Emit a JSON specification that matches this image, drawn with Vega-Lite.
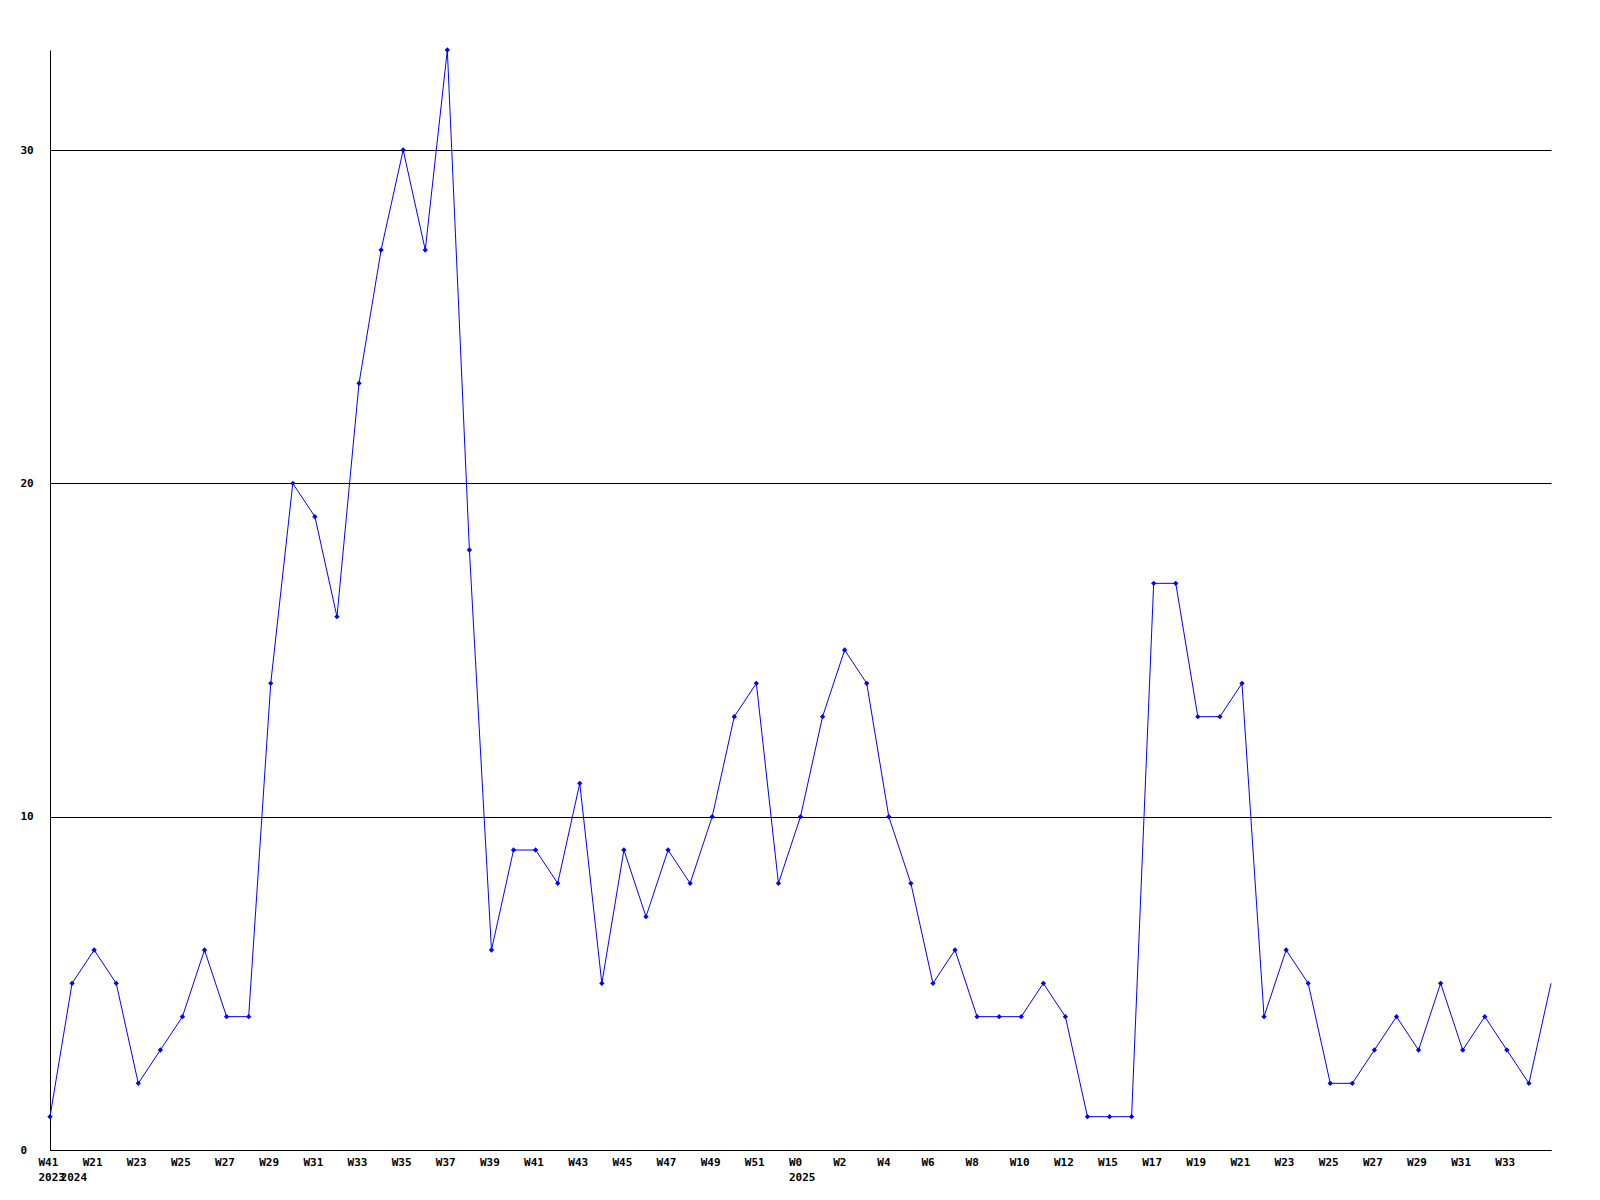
{
  "$schema": "https://vega.github.io/schema/vega-lite/v6.json",
  "width": 1501,
  "height": 1100,
  "autosize": "none",
  "padding": {"left": 50, "top": 50, "right": 49, "bottom": 50},
  "background": "white",
  "config": {"view": {"stroke": null}},
  "data": {
    "values": [
      {"week": "2023-W41", "count": 1},
      {"week": "2024-W20", "count": 5},
      {"week": "2024-W21", "count": 6},
      {"week": "2024-W22", "count": 5},
      {"week": "2024-W23", "count": 2},
      {"week": "2024-W24", "count": 3},
      {"week": "2024-W25", "count": 4},
      {"week": "2024-W26", "count": 6},
      {"week": "2024-W27", "count": 4},
      {"week": "2024-W28", "count": 4},
      {"week": "2024-W29", "count": 14},
      {"week": "2024-W30", "count": 20},
      {"week": "2024-W31", "count": 19},
      {"week": "2024-W32", "count": 16},
      {"week": "2024-W33", "count": 23},
      {"week": "2024-W34", "count": 27},
      {"week": "2024-W35", "count": 30},
      {"week": "2024-W36", "count": 27},
      {"week": "2024-W37", "count": 33},
      {"week": "2024-W38", "count": 18},
      {"week": "2024-W39", "count": 6},
      {"week": "2024-W40", "count": 9},
      {"week": "2024-W41", "count": 9},
      {"week": "2024-W42", "count": 8},
      {"week": "2024-W43", "count": 11},
      {"week": "2024-W44", "count": 5},
      {"week": "2024-W45", "count": 9},
      {"week": "2024-W46", "count": 7},
      {"week": "2024-W47", "count": 9},
      {"week": "2024-W48", "count": 8},
      {"week": "2024-W49", "count": 10},
      {"week": "2024-W50", "count": 13},
      {"week": "2024-W51", "count": 14},
      {"week": "2024-W52", "count": 8},
      {"week": "2025-W0", "count": 10},
      {"week": "2025-W1", "count": 13},
      {"week": "2025-W2", "count": 15},
      {"week": "2025-W3", "count": 14},
      {"week": "2025-W4", "count": 10},
      {"week": "2025-W5", "count": 8},
      {"week": "2025-W6", "count": 5},
      {"week": "2025-W7", "count": 6},
      {"week": "2025-W8", "count": 4},
      {"week": "2025-W9", "count": 4},
      {"week": "2025-W10", "count": 4},
      {"week": "2025-W11", "count": 5},
      {"week": "2025-W12", "count": 4},
      {"week": "2025-W13", "count": 1},
      {"week": "2025-W15", "count": 1},
      {"week": "2025-W16", "count": 1},
      {"week": "2025-W17", "count": 17},
      {"week": "2025-W18", "count": 17},
      {"week": "2025-W19", "count": 13},
      {"week": "2025-W20", "count": 13},
      {"week": "2025-W21", "count": 14},
      {"week": "2025-W22", "count": 4},
      {"week": "2025-W23", "count": 6},
      {"week": "2025-W24", "count": 5},
      {"week": "2025-W25", "count": 2},
      {"week": "2025-W26", "count": 2},
      {"week": "2025-W27", "count": 3},
      {"week": "2025-W28", "count": 4},
      {"week": "2025-W29", "count": 3},
      {"week": "2025-W30", "count": 5},
      {"week": "2025-W31", "count": 3},
      {"week": "2025-W32", "count": 4},
      {"week": "2025-W33", "count": 3},
      {"week": "2025-W34", "count": 2},
      {"week": "2025-W35", "count": 5}
    ]
  },
  "encoding": {
    "x": {
      "field": "week",
      "type": "ordinal",
      "sort": null,
      "scale": {"type": "point", "padding": 0},
      "axis": {
        "title": null,
        "values": ["2023-W41", "2024-W20", "2024-W21", "2024-W23", "2024-W25", "2024-W27", "2024-W29", "2024-W31", "2024-W33", "2024-W35", "2024-W37", "2024-W39", "2024-W41", "2024-W43", "2024-W45", "2024-W47", "2024-W49", "2024-W51", "2025-W0", "2025-W2", "2025-W4", "2025-W6", "2025-W8", "2025-W10", "2025-W12", "2025-W15", "2025-W17", "2025-W19", "2025-W21", "2025-W23", "2025-W25", "2025-W27", "2025-W29", "2025-W31", "2025-W33"],
        "labelExpr": "datum.value == '2024-W20' ? ['', '2024'] : (datum.value == '2023-W41' || datum.value == '2025-W0') ? ['W' + split(datum.value, '-W')[1], split(datum.value, '-W')[0]] : 'W' + split(datum.value, '-W')[1]",
        "labelAlign": "left",
        "labelOffset": -12,
        "labelBaseline": "top",
        "labelPadding": 6,
        "labelLineHeight": 15,
        "labelFont": "DejaVu Sans Mono",
        "labelFontSize": 11,
        "labelFontWeight": "bold",
        "labelColor": "black",
        "labelAngle": 0,
        "labelOverlap": false,
        "labelBound": false,
        "labelFlush": false,
        "ticks": false,
        "grid": false,
        "domainColor": "black",
        "domainWidth": 1
      }
    },
    "y": {
      "field": "count",
      "type": "quantitative",
      "scale": {"domain": [0, 33], "nice": false, "zero": true},
      "axis": {
        "title": null,
        "values": [0, 10, 20, 30],
        "grid": true,
        "gridColor": "black",
        "gridOpacity": 1,
        "gridWidth": 1,
        "ticks": false,
        "domainColor": "black",
        "domainWidth": 1,
        "labelAlign": "left",
        "labelBaseline": "middle",
        "labelPadding": 30,
        "labelFont": "DejaVu Sans Mono",
        "labelFontSize": 11,
        "labelFontWeight": "bold",
        "labelColor": "black",
        "labelOverlap": false,
        "labelFlush": false
      }
    }
  },
  "layer": [
    {
      "mark": {"type": "line", "color": "#0000ff", "strokeWidth": 1}
    },
    {
      "transform": [{"filter": "datum.week != '2025-W35'"}],
      "mark": {"type": "point", "shape": "diamond", "filled": true, "color": "#0000ff", "size": 28, "opacity": 1}
    }
  ]
}
